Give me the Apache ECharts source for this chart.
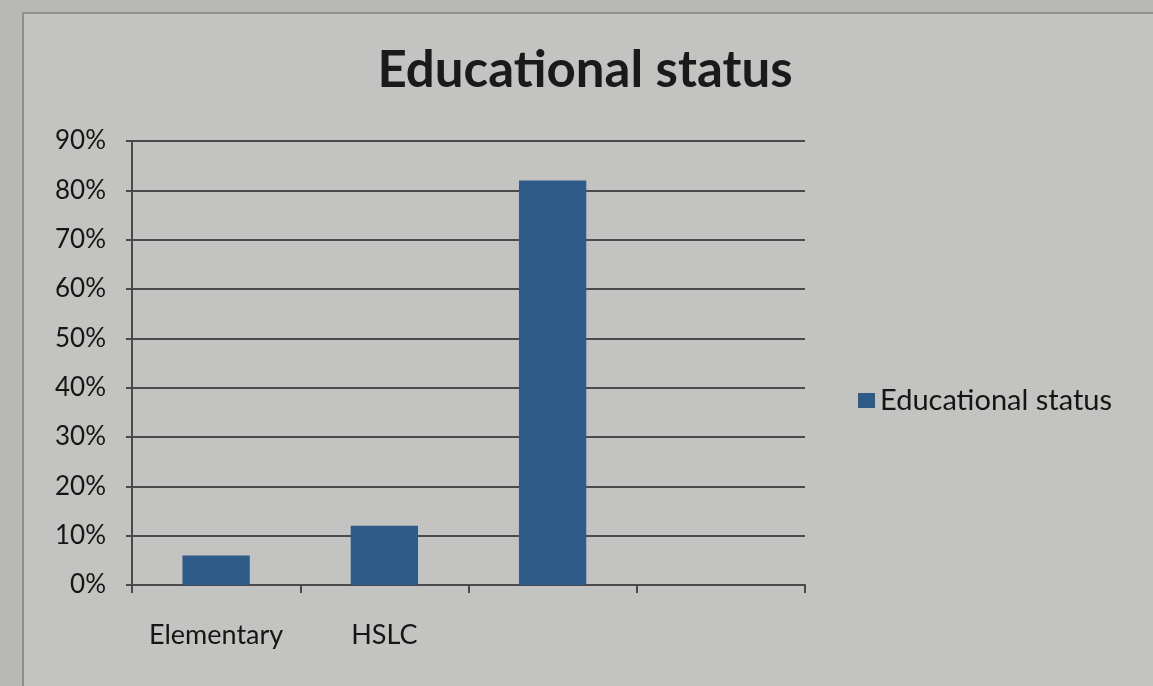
<!DOCTYPE html>
<html>
<head>
<meta charset="utf-8">
<script src="https://cdn.jsdelivr.net/npm/echarts@6/dist/echarts.min.js"></script>
<style>
  html, body { margin: 0; padding: 0; background: #b8b8b6; }
  #frame { position: absolute; left: 22px; top: 12px; width: 1140px; height: 690px;
           border: 2px solid #8e8e8c; background: #c3c3c1; }
  #main { position: absolute; left: 0; top: 0; width: 1153px; height: 686px; }
</style>
</head>
<body>
<div id="frame"></div>
<div id="main"></div>
<script>
// categories and values
var categories = ['Elementary', 'HSLC', '', ''];
var values = [6, 12, 82, null];
var seriesName = 'Educational status';

var chart = echarts.init(document.getElementById('main'));
chart.setOption({
    backgroundColor: 'transparent',
    title: {
        text: 'Educational status',
        left: 580, top: 40, textAlign: 'center',
        textStyle: { fontFamily: 'Lato', fontSize: 51, fontWeight: 'bold', color: '#1a1a1a' }
    },
    legend: {
        data: [seriesName],
        left: 853, top: 381,
        itemWidth: 17, itemHeight: 15, itemGap: 8,
        icon: 'rect',
        textStyle: { fontFamily: 'Lato', fontSize: 29, color: '#151515' }
    },
    grid: { left: 132, right: 348, top: 141, bottom: 101 },
    xAxis: {
        type: 'category',
        data: categories,
        axisLine: { lineStyle: { color: '#4a4a4a', width: 2 } },
        axisTick: { show: true, interval: 0, length: 8, lineStyle: { color: '#4a4a4a', width: 2 } },
        axisLabel: { interval: 0, margin: 37, fontFamily: 'Lato', fontSize: 27, color: '#151515' }
    },
    yAxis: {
        type: 'value',
        min: 0, max: 90, interval: 10,
        axisLine: { show: true, lineStyle: { color: '#4a4a4a', width: 2 } },
        axisTick: { show: true, length: 6, lineStyle: { color: '#4a4a4a', width: 2 } },
        splitLine: { lineStyle: { color: '#4a4a4a', width: 2 } },
        axisLabel: { margin: 26, fontFamily: 'Lato', fontSize: 26, color: '#151515',
                     formatter: '{value}%' }
    },
    series: [{
        name: seriesName,
        type: 'bar',
        data: values,
        barWidth: '40%',
        itemStyle: { color: '#2f5b88' }
    }]
});
</script>
</body>
</html>
